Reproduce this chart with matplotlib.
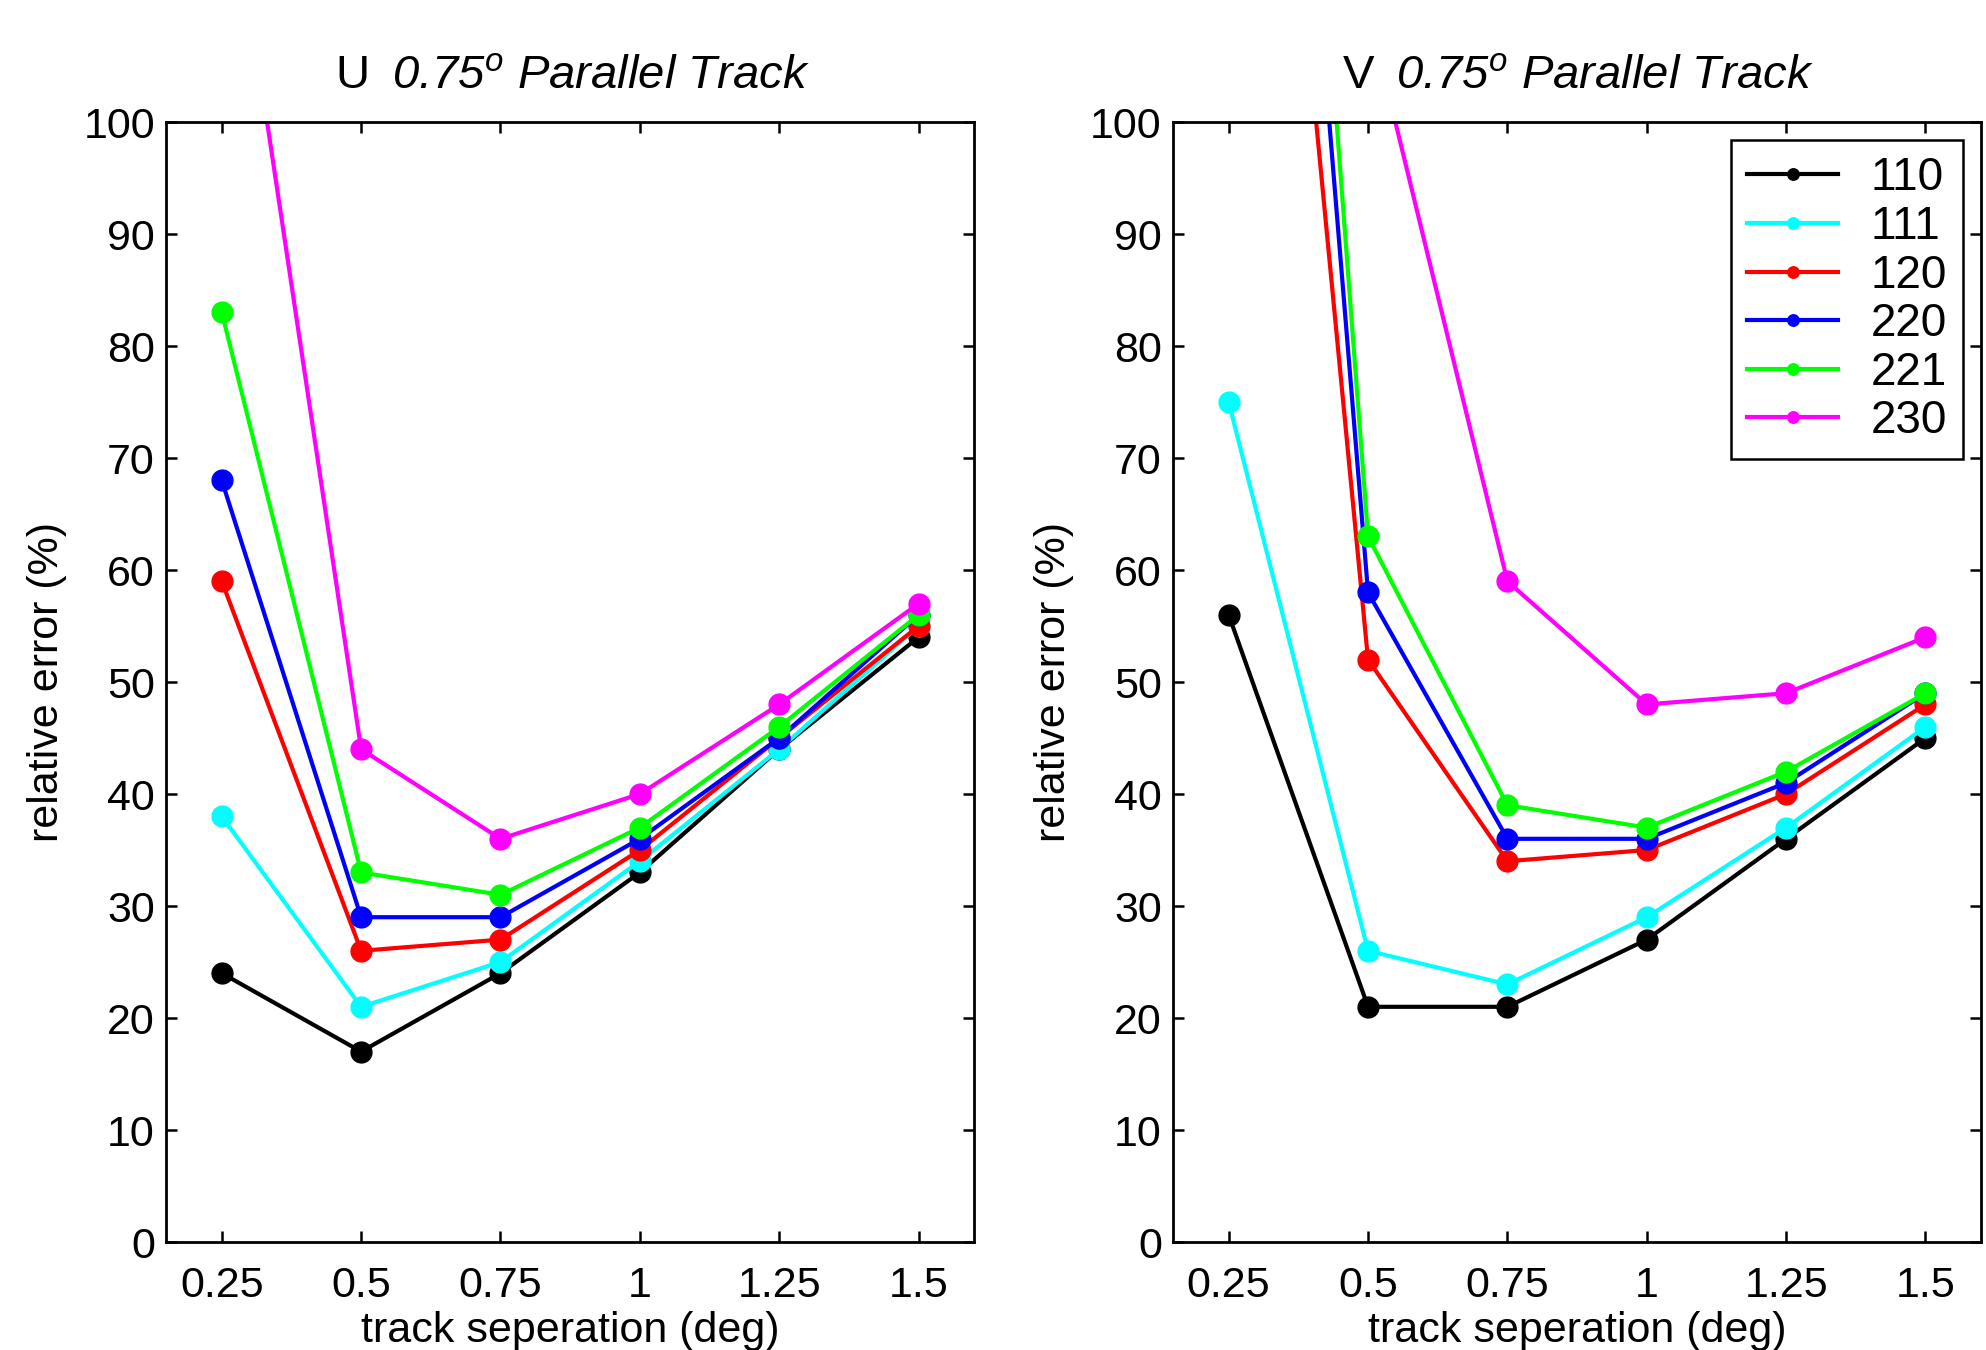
"""U/V 相对误差随轨道间距变化 (0.75 度平行轨道)。"""

import matplotlib

matplotlib.use("Agg")
import matplotlib.pyplot as plt

plt.rcParams["font.family"] = ["Liberation Sans", "DejaVu Sans"]
plt.rcParams["mathtext.fontset"] = "custom"
plt.rcParams["mathtext.rm"] = "Liberation Sans"
plt.rcParams["mathtext.it"] = "Liberation Sans:italic"

# 横轴：轨道间距 (deg)
separation = [0.25, 0.5, 0.75, 1.0, 1.25, 1.5]
tick_labels = ["0.25", "0.5", "0.75", "1", "1.25", "1.5"]
series_names = ["110", "111", "120", "220", "221", "230"]
series_colors = ["#000000", "#00ffff", "#ff0000", "#0000ff", "#00ff00", "#ff00ff"]

# U 分量，超出 100 的点只影响连线
u_110 = [24, 17, 24, 33, 44, 54]
u_111 = [38, 21, 25, 34, 44, 55]
u_120 = [59, 26, 27, 35, 45, 55]
u_220 = [68, 29, 29, 36, 45, 56]
u_221 = [83, 33, 31, 37, 46, 56]
u_230 = [127, 44, 36, 40, 48, 57]

# V 分量
v_110 = [56, 21, 21, 27, 36, 45]
v_111 = [75, 26, 23, 29, 37, 46]
v_120 = [181, 52, 34, 35, 40, 48]
v_220 = [209, 58, 36, 36, 41, 49]
v_221 = [227, 63, 39, 37, 42, 49]
v_230 = [240, 110, 59, 48, 49, 54]

u_values = [u_110, u_111, u_120, u_220, u_221, u_230]
v_values = [v_110, v_111, v_120, v_220, v_221, v_230]


def draw_panel(ax, values, component):
    for name, color, ys in zip(series_names, series_colors, values):
        ax.plot(separation, ys, color=color, lw=3.0, marker="o", ms=15, label=name)
    ax.set_xlim(0.15, 1.6)
    ax.set_ylim(0, 100)
    ax.set_xticks(separation)
    ax.set_xticklabels(tick_labels)
    ax.set_yticks(range(0, 101, 10))
    ax.tick_params(direction="in", length=8, width=1.8, labelsize=31,
                   top=True, right=True)
    ax.tick_params(axis="x", pad=17)
    ax.tick_params(axis="y", pad=8)
    for spine in ax.spines.values():
        spine.set_linewidth(2.0)
    ax.set_xlabel("track seperation (deg)", fontsize=31, labelpad=4)
    ax.set_ylabel("relative error (%)", fontsize=31, labelpad=12)

    # 标题：分量名正体，其余斜体
    head = ax.text(0.21, 1.03, component, transform=ax.transAxes,
                   fontsize=34, va="baseline", ha="left")
    ax.annotate("0.75$^o$ Parallel Track", xy=(1, 0), xycoords=head,
                xytext=(16, 0), textcoords="offset points",
                fontsize=34, style="italic", va="bottom", ha="left")


fig = plt.figure(figsize=(19.86, 13.5), dpi=100)
ax_u = fig.add_axes([0.0836, 0.080, 0.407, 0.8296])
ax_v = fig.add_axes([0.5906, 0.080, 0.407, 0.8296])

draw_panel(ax_u, u_values, "U")
draw_panel(ax_v, v_values, "V")

leg = ax_v.legend(loc="upper right", fontsize=33, markerscale=0.55, handlelength=2.0,
                  fancybox=False, edgecolor="black", framealpha=1.0,
                  borderaxespad=0.4, labelspacing=0.1, handletextpad=0.7,
                  borderpad=0.35)
leg.get_frame().set_linewidth(1.8)

fig.savefig("out.png", dpi=100)
